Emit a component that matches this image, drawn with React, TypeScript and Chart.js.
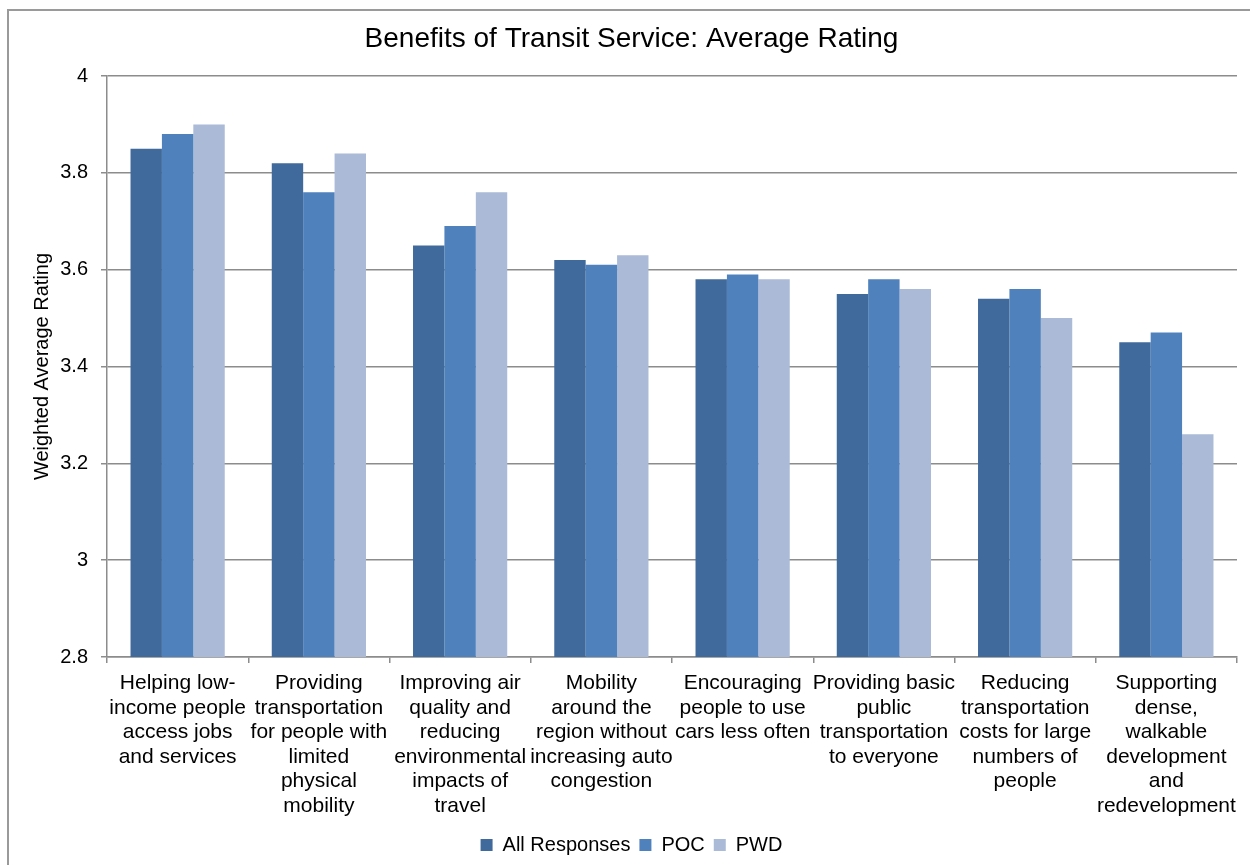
import React, { useEffect, useRef } from 'react';
import { Chart, registerables } from 'chart.js';

Chart.register(...registerables);

const categories: string[][] = [
  ['Helping low-', 'income people', 'access jobs', 'and services'],
  ['Providing', 'transportation', 'for people with', 'limited', 'physical', 'mobility'],
  ['Improving air', 'quality and', 'reducing', 'environmental', 'impacts of', 'travel'],
  ['Mobility', 'around the', 'region without', 'increasing auto', 'congestion'],
  ['Encouraging', 'people to use', 'cars less often'],
  ['Providing basic', 'public', 'transportation', 'to everyone'],
  ['Reducing', 'transportation', 'costs for large', 'numbers of', 'people'],
  ['Supporting', 'dense,', 'walkable', 'development', 'and', 'redevelopment'],
];
const allResponses = [3.85, 3.82, 3.65, 3.62, 3.58, 3.55, 3.54, 3.45];
const poc = [3.88, 3.76, 3.69, 3.61, 3.59, 3.58, 3.56, 3.47];
const pwd = [3.9, 3.84, 3.76, 3.63, 3.58, 3.56, 3.5, 3.26];
const seriesNames = ['All Responses', 'POC', 'PWD'];
const yMin = 2.8;
const yMax = 4;
const yStep = 0.2;

const FONT = '"Liberation Sans", Arial, sans-serif';

const framePlugin = {
  id: 'frame',
  beforeDraw(chart: any) {
    const ctx = chart.ctx;
    ctx.save();
    ctx.fillStyle = '#ffffff';
    ctx.fillRect(0, 0, chart.width, chart.height);
    ctx.strokeStyle = '#9a9a9a';
    ctx.lineWidth = 2;
    ctx.beginPath();
    ctx.moveTo(8, chart.height + 2);
    ctx.lineTo(8, 10);
    ctx.lineTo(chart.width + 2, 10);
    ctx.stroke();
    ctx.restore();
  },
};

export default function App() {
  const ref = useRef<HTMLCanvasElement>(null);
  useEffect(() => {
    if (!ref.current) return;
    const chart = new Chart(ref.current, {
      type: 'bar',
      data: {
        labels: categories,
        datasets: [
          { label: seriesNames[0], data: allResponses, backgroundColor: '#406A9B' },
          { label: seriesNames[1], data: poc, backgroundColor: '#4F81BD' },
          { label: seriesNames[2], data: pwd, backgroundColor: '#AABAD7' },
        ],
      },
      options: {
        responsive: false,
        animation: false,
        devicePixelRatio: 1,
        layout: { padding: { left: 26, right: 13, top: 0, bottom: 0 } },
        datasets: { bar: { categoryPercentage: 0.667, barPercentage: 1 } },
        plugins: {
          title: {
            display: true,
            text: 'Benefits of Transit Service: Average Rating',
            color: '#000',
            font: { family: FONT, size: 28, weight: 'normal' },
            padding: { top: 22, bottom: 20.4 },
          },
          legend: {
            position: 'bottom',
            labels: {
              color: '#000',
              font: { family: FONT, size: 20 },
              boxWidth: 12,
              boxHeight: 12,
              padding: 9,
            },
          },
          tooltip: { enabled: false },
        },
        scales: {
          x: {
            grid: {
              offset: true,
              drawOnChartArea: false,
              drawTicks: true,
              tickLength: 6,
              color: '#8c8c8c',
              lineWidth: 1.5,
            },
            border: { color: '#8c8c8c', width: 1.5 },
            ticks: {
              color: '#000',
              font: { family: FONT, size: 21, lineHeight: '24.6px' },
              padding: 8,
              maxRotation: 0,
              autoSkip: false,
            },
            afterFit(scale: any) {
              scale.height = 169;
            },
          },
          y: {
            min: yMin,
            max: yMax,
            grid: {
              color: '#8c8c8c',
              lineWidth: 1.5,
              tickLength: 6,
            },
            border: { color: '#8c8c8c', width: 1.5 },
            ticks: {
              stepSize: yStep,
              color: '#000',
              font: { family: FONT, size: 20 },
              padding: 13,
              callback: (v: any) => String(parseFloat(Number(v).toFixed(1))),
            },
            title: {
              display: true,
              text: 'Weighted Average Rating',
              color: '#000',
              font: { family: FONT, size: 20 },
              padding: { top: 4, bottom: 0 },
            },
            afterFit(scale: any) {
              scale.width = 81;
            },
          },
        },
      },
      plugins: [framePlugin],
    } as any);
    return () => chart.destroy();
  }, []);
  return (
    <div style={{ position: 'absolute', left: 0, top: 0, width: 1250, height: 865 }}>
      <canvas ref={ref} width={1250} height={865} style={{ display: 'block' }} />
    </div>
  );
}
